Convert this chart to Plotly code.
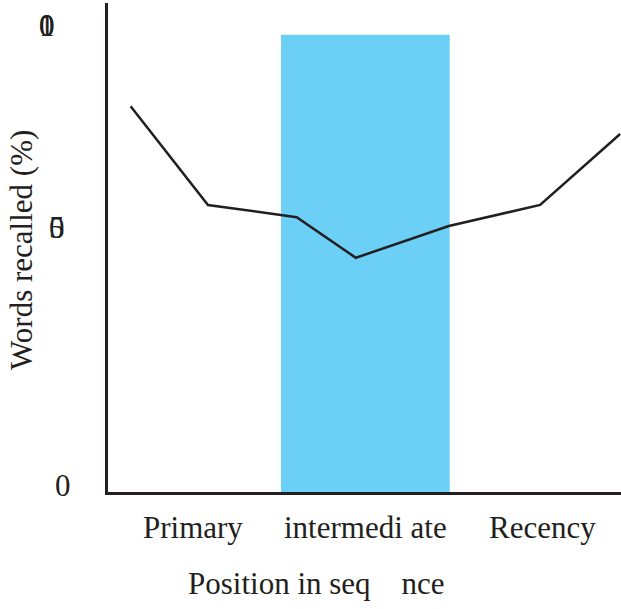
import plotly.graph_objects as go

# ---- data ----
categories = ["Primary", "intermedi ate", "Recency"]
category_pos = [0.98, 2.96, 5.0]
curve_x = [0.26, 1.15, 2.17, 2.85, 3.92, 4.97, 5.89]
curve_y = [78.9, 58.7, 56.2, 47.9, 54.4, 58.7, 73.2]
band_start = 1.99
band_end = 3.93
band_height = 93.5
y_tick_labels = ["0", "50", "100"]
y_tick_pos = [1.4, 54.0, 95.3]
y_tick_xshift = [-45, -51, -61]
x_title = "Position in seq\u00a0\u00a0\u00a0\u00a0nce"
y_title = "Words recalled (%)"

INK = "#231F20"
FONT = "Times New Roman, Liberation Serif, DejaVu Serif, serif"

fig = go.Figure()
fig.add_trace(go.Bar(
    x=[(band_start + band_end) / 2], y=[band_height], width=[band_end - band_start],
    marker=dict(color="#6CCFF6", line=dict(width=0)), showlegend=False, hoverinfo="skip"))
fig.add_trace(go.Scatter(
    x=curve_x, y=curve_y, mode="lines", line=dict(color=INK, width=2.5),
    showlegend=False))

annotations = []
for lab, pos in zip(categories, category_pos):
    annotations.append(dict(x=pos, y=0, xref="x", yref="paper", text=lab, showarrow=False,
                            xanchor="center", yanchor="middle", yshift=-35,
                            font=dict(family=FONT, size=31, color=INK)))
# y tick labels: characters drawn on top of each other as in the reference
for lab, pos, xs in zip(y_tick_labels, y_tick_pos, y_tick_xshift):
    for ch in lab:
        annotations.append(dict(x=0, y=pos, xref="paper", yref="y", text=ch, showarrow=False,
                                xanchor="center", yanchor="middle", xshift=xs,
                                font=dict(family=FONT, size=31, color=INK)))
annotations.append(dict(x=0.152, y=0, xref="paper", yref="paper", text=x_title, showarrow=False,
                        xanchor="left", yanchor="middle", yshift=-91,
                        font=dict(family=FONT, size=31, color=INK)))
annotations.append(dict(x=0, y=0.495, xref="paper", yref="paper", text=y_title, showarrow=False,
                        xanchor="center", yanchor="middle", xshift=-86, textangle=-90,
                        font=dict(family=FONT, size=31, color=INK)))

fig.update_layout(
    width=621, height=609,
    margin=dict(l=108, r=0, t=3, b=117),
    paper_bgcolor="white", plot_bgcolor="white",
    font=dict(family=FONT, color=INK),
    annotations=annotations,
    xaxis=dict(range=[0, 5.9], showgrid=False, zeroline=False, showticklabels=False,
               ticks="", showline=True, linecolor=INK, linewidth=3),
    yaxis=dict(range=[0, 100], showgrid=False, zeroline=False, showticklabels=False,
               ticks="", showline=True, linecolor=INK, linewidth=3),
)

fig.write_html("out.html", config={"displayModeBar": False},
               post_script="document.body.style.margin='0';")
